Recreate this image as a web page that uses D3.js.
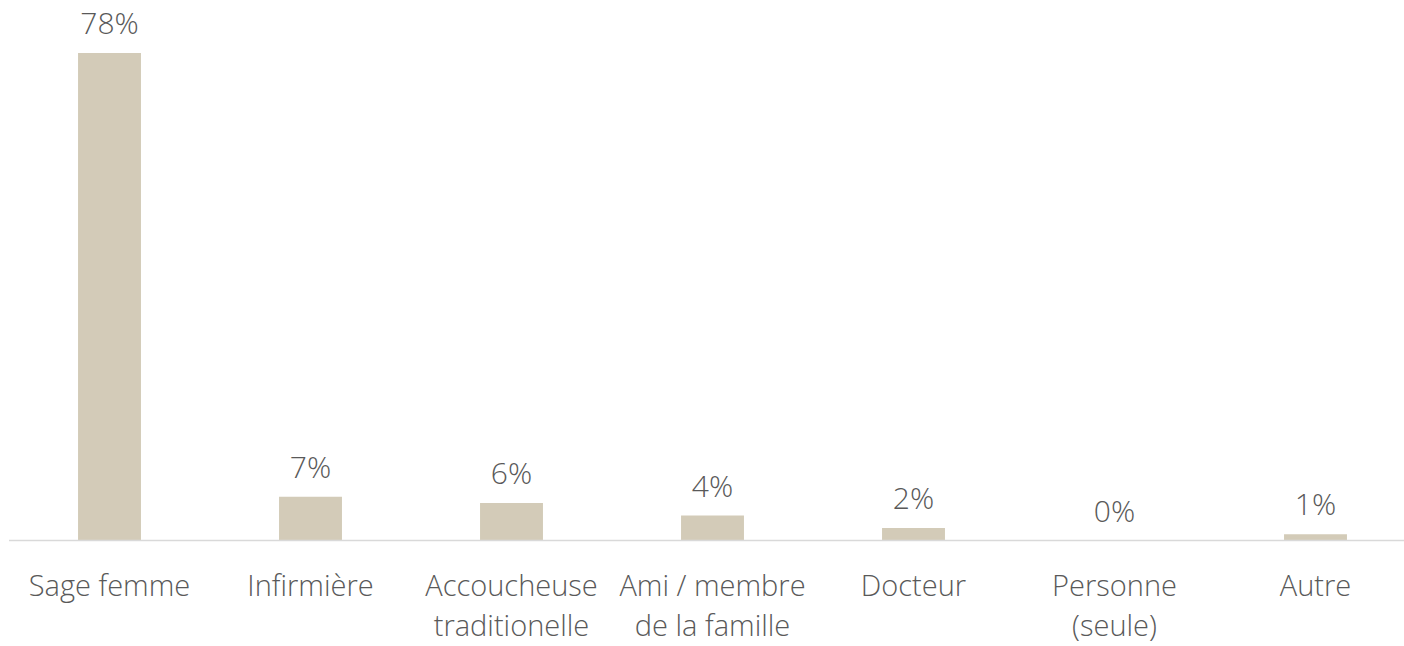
<!DOCTYPE html>
<html lang="fr">
<head>
    <meta charset="UTF-8">
    <title>Accouchement</title>
    <script src="https://cdn.jsdelivr.net/npm/d3@7"></script>
    <style>
    html, body{margin: 0; padding: 0; background: #fff;}
    .marco{width: 1404px; height: 646px;}
    text{font-family: 'Open Sans', sans-serif; font-weight: 300; fill: #595959;}
    </style>
</head>
<body>
    <div class="marco"></div>

    <script>
    // categorias (una linea por elemento) y valores en %
    const categorias = [
        ["Sage femme"],
        ["Infirmière"],
        ["Accoucheuse", "traditionelle"],
        ["Ami / membre", "de la famille"],
        ["Docteur"],
        ["Personne", "(seule)"],
        ["Autre"]
    ]
    const valores = [78, 7, 6, 4, 2, 0, 1]
    const etiquetas = ["78%", "7%", "6%", "4%", "2%", "0%", "1%"]

    var width = 1404,
        height = 646,
        base = 540.5,
        tope = 53

    var svg = d3.select(".marco").append("svg")
        .attr("width", width)
        .attr("height", height)

    var x = d3.scaleBand()
        .domain(d3.range(categorias.length))
        .range([9, 1416])
        .paddingInner(0.687)
        .paddingOuter(0.3435)

    var y = d3.scaleLinear()
        .domain([0, 78])
        .range([base, tope])

    // barras
    svg.selectAll("rect.barra")
        .data(valores)
        .enter().append("rect")
        .attr("class", "barra")
        .attr("x", (d, i) => x(i))
        .attr("y", d => y(d))
        .attr("width", x.bandwidth())
        .attr("height", d => base - y(d))
        .attr("fill", "#d3cbb8")

    // eje horizontal
    svg.append("line")
        .attr("x1", 9).attr("x2", 1416)
        .attr("y1", base).attr("y2", base)
        .attr("stroke", "#d9d9d9")
        .attr("stroke-width", 1.5)

    // valores encima
    svg.selectAll("text.valor")
        .data(valores)
        .enter().append("text")
        .attr("class", "valor")
        .attr("x", (d, i) => x(i) + x.bandwidth() / 2)
        .attr("y", d => y(d) - 19)
        .attr("text-anchor", "middle")
        .attr("font-size", 30)
        .text((d, i) => etiquetas[i])

    // categorias
    var cat = svg.selectAll("text.cat")
        .data(categorias)
        .enter().append("text")
        .attr("class", "cat")
        .attr("text-anchor", "middle")
        .attr("font-size", 29)
        .attr("y", base + 55)

    cat.selectAll("tspan")
        .data((d, i) => d.map(l => ({l, i})))
        .enter().append("tspan")
        .attr("x", d => x(d.i) + x.bandwidth() / 2)
        .attr("dy", (d, j) => j == 0 ? 0 : 40)
        .text(d => d.l)
    </script>
</body>
</html>
